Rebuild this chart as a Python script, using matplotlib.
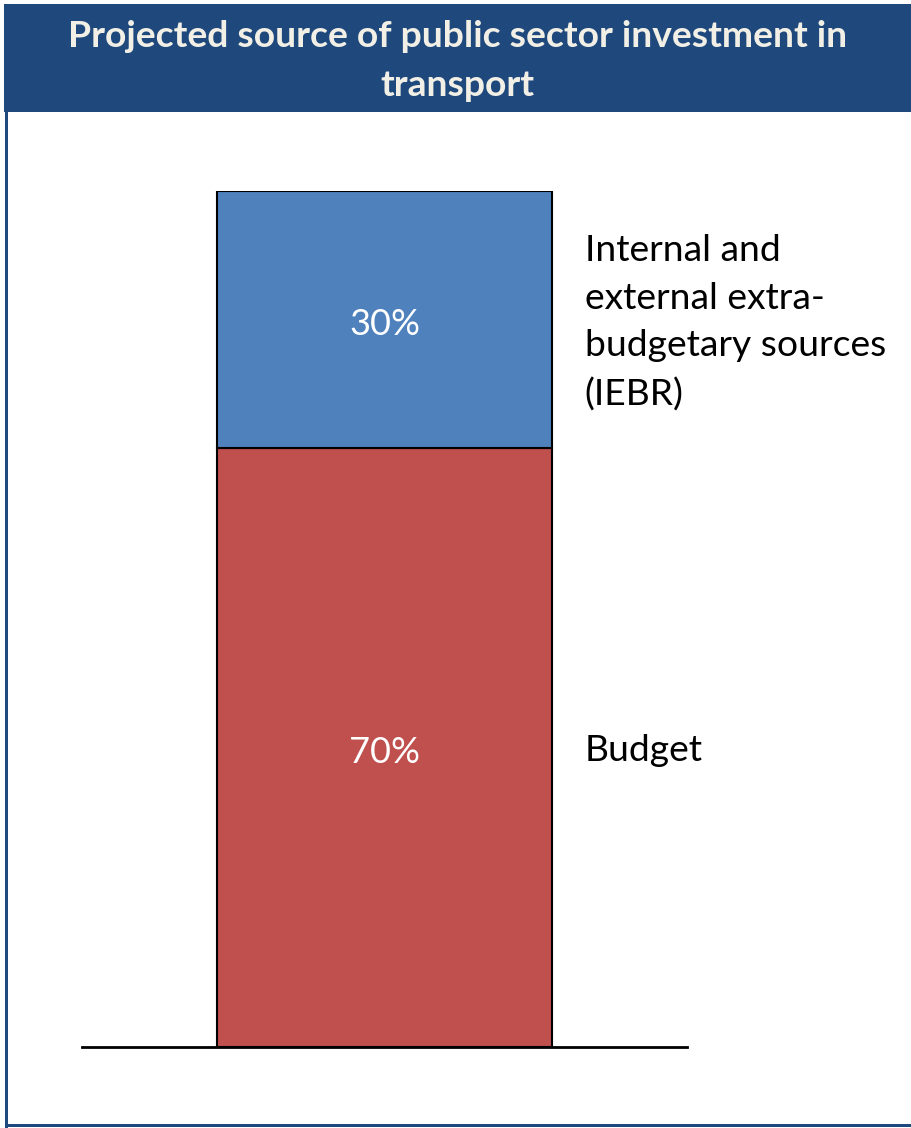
import matplotlib.pyplot as plt
from matplotlib.patches import Rectangle

# data
segments = ['Budget', 'Internal and\nexternal extra-\nbudgetary sources\n(IEBR)']
shares = [70, 30]
seg_colors = ['#C0504D', '#4F81BD']

title = 'Projected source of public sector investment in\ntransport'
navy = '#1F497D'

plt.rcParams['font.family'] = ['Lato', 'DejaVu Sans']

W, H = 911, 1128
fig = plt.figure(figsize=(W / 100, H / 100), dpi=100)
fig.patch.set_facecolor('white')

# frame: left + bottom border and title bar
fig.add_artist(Rectangle((5 / W, 0), 3 / W, 1 - 4 / H, transform=fig.transFigure,
                         facecolor=navy, edgecolor='none'))
fig.add_artist(Rectangle((5 / W, 1 / H), 1, 3 / H, transform=fig.transFigure,
                         facecolor=navy, edgecolor='none'))
fig.add_artist(Rectangle((4 / W, 1 - 112 / H), 1, 108 / H, transform=fig.transFigure,
                         facecolor=navy, edgecolor='none'))
fig.text(0.5 * (4 + W) / W, 1 - 61 / H, title, ha='center', va='center',
         color='#F2F0E6', fontsize=26.8, fontweight='bold', linespacing=1.56)

# axes: baseline from x=82 to 687, bar from y=1047 up to 191
ax = fig.add_axes([82 / W, 1 - 1047 / H, 605 / W, (1047 - 191) / H])
ax.set_xlim(-0.5, 0.5)
ax.set_ylim(0, 100)
ax.axis('off')

bottom = 0
for name, val, col in zip(segments, shares, seg_colors):
    ax.bar(0, val, bottom=bottom, width=0.555, color=col, edgecolor='black', linewidth=1.5)
    ax.text(0, bottom + val / 2 - 0.6, f'{val}%', ha='center', va='center', color='white', fontsize=26)
    ax.text(0.331, bottom + val / 2 - 0.4, name, ha='left', va='center', color='black',
            fontsize=26.8, linespacing=1.54)
    bottom += val

ax.axhline(0, color='black', linewidth=2, clip_on=False)

fig.savefig('out.png', dpi=100, facecolor='white')
